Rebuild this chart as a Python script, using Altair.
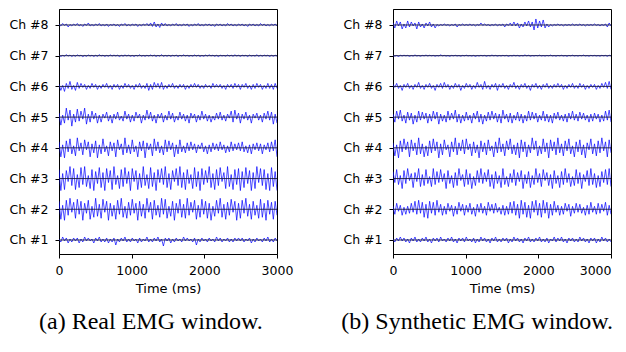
import altair as alt
import pandas as pd

TIME_MAX = 3000
x_ticks = [0, 1000, 2000, 3000]
channels = [1, 2, 3, 4, 5, 6, 7, 8]

real_ch8 = [0.5,-1,1.5,-0.5,1,-2,0.5,-1,1,-0.5, 1.5,-1,0.5,-1.5,1,-0.5,2,-1,0.5,-1,
            1,-0.5,1.5,-1,0.5,-1,1,-1.5,0.5,-0.5, 1,-1,0.5,-1.5,1,-0.5,1.5,-1,0.5,-1,
            1,-0.5,1,-1.5,0.5,-1,1,-0.5,1.5,-1, 2,-1.5,3,-2,1,-2.5,2,-1,1.5,-1,
            0.5,-1,1,-0.5,1.5,-1,0.5,-1,1,-0.5, 1,-1.5,0.5,-1,1,-0.5,1.5,-1,0.5,-1,
            1,-0.5,1,-1,0.5,-1.5,1,-0.5,1,-1, 0.5,-1,1.5,-0.5,1,-1,0.5,-1,1,-0.5,
            1,-1,0.5,-1.5,1,-0.5,1,-1,0.5,-1, 1.5,-0.5,1,-1,0.5,-1,1,-0.5,1,-1]
real_ch7 = [0.5,-0.8,0.3,-0.5,1,-0.4,0.6,-0.8,0.4,-0.6, 0.8,-0.3,0.5,-1,0.3,-0.6,0.7,-0.4,0.5,-0.8,
            0.4,-0.6,1,-0.3,0.5,-0.7,0.3,-0.5,0.8,-0.4, 0.6,-0.3,0.5,-0.9,0.4,-0.5,0.7,-0.3,0.5,-0.6,
            0.3,-0.8,0.5,-0.4,0.9,-0.5,0.3,-0.6,0.5,-0.4, 0.7,-0.3,0.6,-0.8,0.4,-0.5,1,-0.6,0.3,-0.5,
            0.5,-0.7,0.4,-0.3,0.6,-0.9,0.5,-0.4,0.8,-0.3, 0.4,-0.6,0.3,-0.5,0.7,-0.4,0.5,-0.8,0.3,-0.6,
            0.6,-0.4,0.8,-0.3,0.5,-0.6,0.4,-0.9,0.5,-0.3, 0.3,-0.5,0.7,-0.4,0.5,-0.6,0.8,-0.3,0.4,-0.7,
            0.5,-0.3,0.4,-0.8,0.6,-0.4,0.3,-0.5,0.9,-0.6, 0.4,-0.5,0.6,-0.3,0.5,-0.8,0.4,-0.6,0.5,-0.4]
real_ch6 = [2,-4,1,-5,3,-2,5,-3,1,-4, 4,-2,3,-1,2,-3,1,-2,3,-1, 2,-3,1,-2,2,-1,3,-2,1,-3,
            2,-1,2,-3,1,-2,3,-1,2,-2, 1,-3,2,-1,3,-2,1,-2,3,-4, 2,-3,4,-1,3,-2,4,-3,1,-2,
            2,-1,3,-2,1,-2,2,-1,2,-3, 1,-2,2,-1,3,-1,2,-2,1,-2, 2,-1,1,-2,3,-1,2,-1,2,-2,
            1,-3,2,-1,2,-2,3,-1,2,-3, 2,-1,3,-2,1,-3,2,-2,3,-1, 2,-3,1,-2,3,-2,2,-3,3,-2]
real_ch5 = [4,-8,2,-6,9,-3,7,-9,3,-5, 8,-4,6,-2,9,-7,3,-5,6,-2, 4,-6,2,-5,3,-1,5,-4,2,-6,
            3,-2,5,-3,1,-4,6,-2,3,-5, 2,-4,5,-1,3,-6,2,-3,7,-2, 5,-4,2,-6,3,-1,4,-5,2,-3,
            6,-2,4,-5,1,-3,5,-2,3,-4, 2,-6,4,-1,3,-5,2,-3,6,-2, 3,-4,2,-5,1,-3,4,-2,5,-3,
            2,-4,3,-1,6,-5,7,-2,4,-6, 3,-2,5,-3,2,-6,3,-1,4,-3, 2,-5,4,-2,6,-3,5,-7,3,-6]
real_ch4 = [6,-9,3,-10,7,-4,9,-6,2,-8, 10,-3,5,-7,8,-2,6,-9,4,-5, 7,-10,3,-6,9,-4,2,-8,6,-3,
            5,-9,8,-2,4,-7,10,-5,3,-6, 8,-4,2,-9,6,-3,7,-10,5,-2, 4,-8,9,-3,6,-5,2,-7,8,-4,
            7,-2,5,-9,3,-6,8,-4,2,-5, 5,-3,6,-2,4,-5,3,-1,5,-4, 2,-6,3,-4,5,-2,4,-3,6,-2,
            3,-5,2,-4,6,-3,4,-2,5,-3, 6,-4,2,-5,3,-6,4,-2,5,-3, 4,-6,3,-2,5,-4,6,-3,8,-9]
real_ch3 = [9,-12,5,-11,8,-3,12,-7,10,-11, 4,-9,11,-6,12,-8,3,-10,9,-12, 7,-5,11,-9,6,-12,10,-4,8,-11,
            12,-6,3,-10,9,-8,11,-5,7,-12, 10,-3,8,-11,5,-9,12,-7,4,-10, 11,-8,6,-12,9,-4,10,-6,12,-9,
            5,-11,8,-3,10,-7,12,-9,6,-11, 9,-5,4,-10,11,-8,7,-12,10,-6, 8,-4,12,-9,5,-11,9,-7,11,-3,
            6,-10,12,-8,4,-11,9,-6,10,-12, 7,-9,11,-5,8,-12,6,-10,12,-4, 10,-7,9,-11,5,-12,11,-8,7,-12]
real_ch2 = [8,-10,4,-11,9,-6,11,-3,7,-9, 10,-5,8,-11,6,-4,9,-10,3,-8, 11,-7,5,-9,10,-3,8,-11,6,-7,
            4,-10,9,-5,11,-8,3,-9,7,-6, 10,-4,6,-11,8,-7,5,-9,11,-3, 7,-10,9,-6,4,-8,11,-5,10,-9,
            3,-7,8,-11,6,-4,10,-8,5,-9, 11,-6,7,-3,9,-10,4,-8,10,-5, 8,-9,6,-11,3,-7,9,-4,11,-8,
            5,-10,7,-6,10,-3,8,-11,6,-9, 9,-4,11,-7,5,-10,8,-6,4,-9, 10,-8,6,-11,9,-5,7,-10,8,-6]
real_ch1 = [1,-2,3,-1,2,-3,1,-2,2,-1, 2,-3,1,-2,3,-1,2,-1,1,-3, 2,-1,3,-2,1,-2,2,-3,1,-2,
            2,-5,1,-2,2,-1,3,-2,1,-2, 2,-1,1,-3,2,-2,1,-1,3,-2, 1,-2,2,-1,3,-2,1,-6,2,-1,
            2,-3,1,-2,2,-1,1,-2,3,-1, 2,-1,1,-2,2,-5,1,-2,2,-1, 1,-2,2,-1,1,-2,3,-1,2,-2,
            1,-1,2,-2,1,-2,2,-1,2,-1, 2,-2,1,-1,2,-3,1,-2,2,-1, 1,-2,2,-1,3,-2,1,-2,2,-1]

syn_ch8 = [2,-3,4,-1,3,-4,1,-3,4,-2, 3,-1,2,-4,3,-2,1,-3,2,-1, 3,-2,1,-3,0.5,-1,0.5,-0.5,1,-0.5,
           0.5,-1,0.5,-0.5,1,-2,0.5,-0.5,1,-0.5, 0.5,-0.5,1,-0.5,0.5,-1,0.5,-0.5,2,-0.5, 1,-0.5,0.5,-1,0.5,-0.5,1,-1,0.5,-0.5,
           1,-2,1,-0.5,2,-1,3,-1,2,-3, 1,-2,3,-1,4,-2,3,-5,6,-3, 4,-2,5,-3,1,-2,0.5,-1,0.5,-0.5,
           1,-0.5,0.5,-1,0.5,-0.5,0.5,-0.5,1,-0.5, 0.5,-0.5,1,-0.5,0.5,-1,0.5,-0.5,0.5,-0.5, 1,-0.5,0.5,-1,0.5,-0.5,1,-2,2,-1]
syn_ch7 = [0.3,-0.5,0.2,-0.8,0.4,-0.3,0.5,-0.2,0.3,-0.6, 0.2,-0.4,0.7,-0.3,0.2,-0.5,0.3,-0.2,0.6,-0.3,
           0.4,-0.2,0.3,-0.5,0.2,-0.3,0.8,-0.2,0.3,-0.4, 0.2,-0.6,0.3,-0.2,0.4,-0.3,0.2,-0.5,0.3,-0.2,
           0.5,-0.3,0.2,-0.4,0.3,-0.7,0.2,-0.3,0.4,-0.2, 0.3,-0.5,0.2,-0.3,0.6,-0.2,0.3,-0.4,0.2,-0.3,
           0.4,-0.2,0.3,-0.6,0.2,-0.3,0.5,-0.2,0.3,-0.4, 0.2,-0.3,0.7,-0.2,0.4,-0.5,0.2,-0.3,0.3,-0.2,
           0.5,-0.3,0.2,-0.4,0.3,-0.2,0.6,-0.3,0.2,-0.5, 0.3,-0.2,0.4,-0.3,0.2,-0.6,0.3,-0.2,0.5,-0.3,
           0.2,-0.4,0.3,-0.2,0.6,-0.3,0.2,-0.5,0.4,-0.2, 0.3,-0.3,0.2,-0.5,0.4,-0.2,0.3,-0.6,0.5,-0.3]
syn_ch6 = [2,-1,3,-2,1,-4,2,-1,3,-2, 1,-3,2,-1,4,-2,1,-3,2,-1, 3,-2,1,-4,2,-1,3,-2,4,-1,
           2,-3,1,-2,3,-1,2,-4,1,-2, 3,-1,2,-3,1,-2,4,-1,2,-3, 5,-2,1,-3,2,-1,3,-4,2,-1,
           3,-2,1,-3,2,-1,4,-2,1,-3, 2,-1,3,-2,1,-4,2,-1,3,-2, 1,-3,2,-1,3,-2,1,-2,2,-1,
           3,-1,2,-3,1,-2,2,-1,3,-2, 1,-2,3,-1,2,-3,1,-2,2,-1, 2,-3,1,-2,3,-1,4,-2,5,-3]
syn_ch5 = [3,-5,6,-2,7,-4,2,-6,5,-3, 4,-7,2,-5,6,-3,5,-2,4,-6, 3,-4,6,-2,5,-7,3,-4,2,-5,
           6,-3,4,-2,7,-5,3,-6,2,-4, 5,-3,2,-6,4,-2,6,-5,3,-7, 2,-4,5,-3,6,-2,4,-5,3,-6,
           7,-2,3,-5,4,-6,2,-3,5,-4, 3,-6,2,-4,6,-3,5,-2,4,-5, 2,-3,6,-4,3,-5,2,-6,4,-2,
           5,-3,2,-4,3,-5,4,-2,6,-3, 3,-4,5,-2,4,-3,2,-5,3,-4, 4,-2,3,-5,2,-4,6,-3,7,-5]
syn_ch4 = [5,-8,3,-10,7,-4,9,-2,6,-9, 8,-3,5,-7,10,-6,4,-9,2,-8, 7,-5,9,-3,6,-10,4,-7,8,-2,
           3,-9,6,-4,10,-7,5,-3,8,-6, 9,-2,4,-8,6,-5,3,-10,7,-4, 5,-7,8,-3,2,-9,6,-5,10,-4,
           4,-8,7,-2,9,-6,3,-7,5,-10, 8,-4,6,-9,3,-5,10,-2,7,-8, 2,-6,9,-4,5,-10,8,-3,6,-7,
           10,-5,4,-8,7,-3,9,-6,2,-9, 6,-4,8,-7,3,-10,5,-2,9,-6, 4,-8,7,-5,10,-3,6,-9,8,-5]
syn_ch3 = [7,-4,9,-6,3,-10,8,-5,10,-2, 5,-9,6,-3,10,-8,4,-7,9,-5, 2,-8,10,-6,7,-4,9,-3,5,-10,
           8,-5,3,-9,6,-7,10,-2,4,-8, 9,-6,5,-10,2,-7,8,-4,10,-5, 6,-3,9,-8,4,-10,7,-5,3,-9,
           10,-6,2,-8,5,-4,9,-7,6,-3, 8,-10,4,-5,7,-9,3,-6,10,-4, 5,-8,9,-2,6,-7,4,-10,8,-5,
           3,-9,7,-6,10,-4,5,-8,2,-7, 9,-5,6,-10,4,-3,8,-7,10,-6, 5,-9,3,-8,7,-4,9,-6,10,-8]
syn_ch2 = [3,-5,6,-2,4,-6,2,-5,3,-4, 6,-3,8,-5,9,-4,7,-8,5,-9, 8,-4,7,-6,9,-3,5,-6,3,-5,
           6,-2,4,-7,3,-5,7,-2,5,-6, 4,-3,6,-5,2,-7,5,-3,6,-4, 3,-6,7,-2,5,-4,6,-3,2,-5,
           4,-6,3,-5,7,-4,8,-6,5,-9, 9,-5,7,-8,4,-9,8,-3,9,-6, 6,-8,9,-4,7,-9,5,-6,8,-3,
           4,-6,3,-5,6,-2,5,-7,3,-4, 6,-3,5,-4,2,-6,4,-5,7,-3, 3,-5,6,-4,5,-2,7,-6,4,-5]
syn_ch1 = [1,-2,2,-1,3,-1,2,-2,1,-3, 2,-1,3,-2,1,-2,2,-1,3,-2, 1,-3,2,-1,2,-2,3,-1,1,-2,
           2,-1,3,-2,1,-3,2,-1,2,-2, 3,-1,1,-2,2,-3,1,-2,3,-1, 2,-2,1,-3,2,-1,3,-2,1,-2,
           2,-1,2,-3,1,-2,3,-1,2,-2, 1,-3,2,-1,3,-2,1,-2,2,-1, 3,-2,1,-2,2,-3,1,-1,3,-2,
           2,-1,3,-2,1,-3,2,-1,2,-2, 1,-2,3,-1,2,-2,1,-3,2,-1, 2,-3,1,-2,3,-1,2,-2,1,-2]

panels = {
    "real": [real_ch1, real_ch2, real_ch3, real_ch4, real_ch5, real_ch6, real_ch7, real_ch8],
    "syn": [syn_ch1, syn_ch2, syn_ch3, syn_ch4, syn_ch5, syn_ch6, syn_ch7, syn_ch8],
}
captions = {"real": "(a) Real EMG window.", "syn": "(b) Synthetic EMG window."}

SCALE = 30.7  # signal units per channel spacing


def make_df(series):
    rows = []
    for ch, vals in zip(channels, series):
        n = len(vals)
        for i, v in enumerate(vals):
            rows.append({"ch": ch, "t": i * TIME_MAX / (n - 1), "v": v})
    return pd.DataFrame(rows)


base_df = pd.DataFrame({"ch": channels, "t0": [0] * 8, "t1": [TIME_MAX] * 8})

x_scale = alt.Scale(domain=[0, TIME_MAX], nice=False, zero=False)
y_scale = alt.Scale(domain=[0.544, 8.52], nice=False, zero=False)
y_axis = alt.Axis(values=channels, labelExpr="'Ch #' + datum.value", title=None,
                  minExtent=50, maxExtent=50, grid=False, labelPadding=7, labelFlush=False)


def x_axis(last_right):
    kw = dict(values=x_ticks, title="Time (ms)", grid=False, format="d",
              labelPadding=6, titlePadding=6, labelFlush=False)
    if last_right:
        kw["labelAlign"] = {"condition": {"test": f"datum.value == {TIME_MAX}", "value": "right"},
                            "value": "center"}
    return alt.Axis(**kw)


def panel(key, last_right):
    df = make_df(panels[key])
    xa = x_axis(last_right)
    lines = alt.Chart(df).transform_calculate(
        y=f"datum.ch + datum.v / {SCALE}"
    ).mark_line(color="#0000ff", strokeWidth=0.7, clip=True).encode(
        x=alt.X("t:Q", scale=x_scale, axis=xa),
        y=alt.Y("y:Q", scale=y_scale, axis=y_axis),
        detail="ch:N",
    )
    base = alt.Chart(base_df).mark_rule(color="#1a1a3a", strokeWidth=0.9).encode(
        y=alt.Y("ch:Q", scale=y_scale, axis=y_axis),
        x=alt.X("t0:Q", scale=x_scale, axis=xa),
        x2="t1:Q",
    )
    return alt.layer(lines, base).properties(
        width=218, height=245,
        title=alt.TitleParams(captions[key], orient="bottom", anchor="middle", frame="bounds",
                              font="Liberation Serif", fontSize=24, fontWeight="normal",
                              color="black", offset=14),
    )


chart = alt.hconcat(panel("real", False), panel("syn", True), spacing=46).properties(
    padding=0
).configure_view(
    stroke="black", strokeWidth=1
).configure_axis(
    labelFont="DejaVu Sans", labelFontSize=12.5, labelColor="black", labelFontWeight="normal",
    titleFont="DejaVu Sans", titleFontSize=13, titleFontWeight="normal", titleColor="black",
    tickColor="black", tickSize=4, domainColor="black",
)

chart.save("out.html", embed_options={"renderer": "svg", "actions": False})
